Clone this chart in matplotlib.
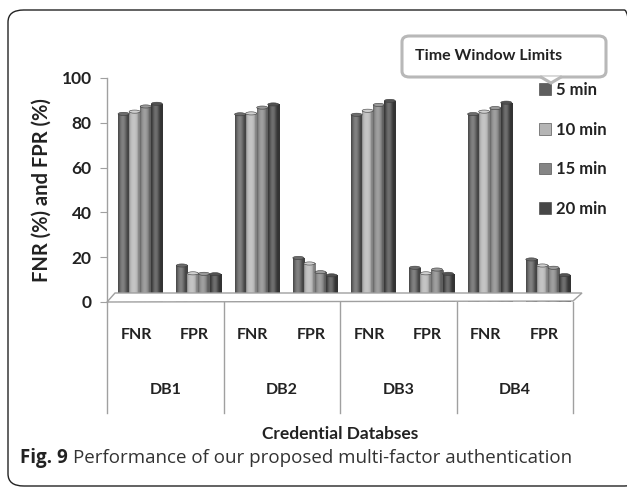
import numpy as np
import matplotlib
matplotlib.use("Agg")
import matplotlib.pyplot as plt
from matplotlib.patches import FancyBboxPatch, Polygon, Ellipse
from matplotlib.colors import to_rgb, ListedColormap
from matplotlib.transforms import blended_transform_factory

# data
databases = ["DB1", "DB2", "DB3", "DB4"]
metrics = ["FNR", "FPR"]
windows = ["5 min", "10 min", "15 min", "20 min"]
fnr = {
    "5 min": [84.0, 83.8, 83.6, 83.9],
    "10 min": [85.0, 84.2, 85.4, 85.0],
    "15 min": [87.3, 86.8, 88.0, 86.6],
    "20 min": [88.5, 88.2, 89.8, 89.0],
}
fpr = {
    "5 min": [16.3, 19.7, 15.3, 19.0],
    "10 min": [12.8, 17.2, 12.8, 16.3],
    "15 min": [12.6, 13.3, 14.5, 15.3],
    "20 min": [12.4, 11.9, 12.6, 12.0],
}
colors = ["#5e5e5e", "#b5b5b5", "#858585", "#474747"]
yticks = [0, 20, 40, 60, 80, 100]

W, H = 627, 488
fig = plt.figure(figsize=(W / 100, H / 100), dpi=100)
FONT = "Lato"


def fx(px):
    return px / W


def fy(py):
    return 1 - py / H


ax = fig.add_axes([fx(107), fy(302), fx(573) - fx(107), fy(78) - fy(302)])
ax.set_xlim(0, 8)
ax.set_ylim(0, 100)

bar_w = 0.19
shift = 0.07


def shade_cmap(c):
    base = np.array(to_rgb(c))
    t = np.linspace(0, 1, 64)
    f = 0.72 + 0.5 * np.sin(np.pi * np.clip(t * 1.25, 0, 1)) ** 0.8
    cols = [np.clip(base * k if k <= 1 else base + (1 - base) * (k - 1), 0, 1) for k in f]
    return ListedColormap(cols)


grad = np.linspace(0, 1, 64).reshape(1, -1)
for j, win in enumerate(windows):
    xs, hs = [], []
    for d in range(len(databases)):
        for m, series in enumerate([fnr, fpr]):
            slot = d * 2 + m
            xs.append(slot + 0.5 + shift + (j - 1.5) * bar_w)
            hs.append(series[win][d])
    bars = ax.bar(xs, hs, width=bar_w, color=colors[j], edgecolor="#3a3a3a",
                  linewidth=0.4, zorder=3, label=win)
    cmap = shade_cmap(colors[j])
    for b in bars:
        x0, w, h = b.get_x(), b.get_width(), b.get_height()
        im = ax.imshow(grad, extent=[x0, x0 + w, 0, h], cmap=cmap,
                       aspect="auto", zorder=3.5, interpolation="bilinear")
        im.set_clip_path(b)
        cap = Ellipse((x0 + w / 2, h), w, 1.4,
                      facecolor=np.clip(np.array(to_rgb(colors[j])) * 1.15, 0, 1),
                      edgecolor="#3a3a3a", linewidth=0.4, zorder=4)
        ax.add_patch(cap)

ax.set_xlim(0, 8)
ax.set_ylim(0, 100)

# floor of the 3D chart
floor = Polygon([[fx(107), fy(302)], [fx(115), fy(293)], [fx(582), fy(293)], [fx(573), fy(301)]],
                closed=True, transform=fig.transFigure, facecolor="white",
                edgecolor="#a0a0a0", linewidth=1.0, zorder=1)
fig.patches.append(floor)

for s in ["top", "right", "bottom"]:
    ax.spines[s].set_visible(False)
ax.spines["left"].set_color("#a0a0a0")
ax.spines["left"].set_linewidth(1.0)
ax.set_xticks([])
ax.set_yticks(yticks)
ax.tick_params(axis="y", length=5, color="#a0a0a0", pad=6)
for lab in ax.get_yticklabels():
    lab.set_fontfamily(FONT)
    lab.set_fontweight("bold")
    lab.set_fontsize(12.5)
    lab.set_color("#222222")
ax.patch.set_visible(False)

# category labels and dividers below the axis
tr = blended_transform_factory(ax.transData, fig.transFigure)
for d, db in enumerate(databases):
    for m, met in enumerate(metrics):
        ax.text(d * 2 + m + 0.5, fy(335), met, transform=tr, ha="center", va="center",
                fontsize=11.5, fontweight="bold", family=FONT, color="#222222")
    ax.text(d * 2 + 1.0, fy(390), db, transform=tr, ha="center", va="center",
            fontsize=11.5, fontweight="bold", family=FONT, color="#222222")
for k in range(len(databases) + 1):
    ax.plot([k * 2, k * 2], [fy(302), fy(413)], transform=tr, color="#a0a0a0",
            linewidth=1.0, clip_on=False)

fig.text(fx(340), fy(434), "Credential Databses", ha="center", va="center",
         fontsize=12.5, fontweight="bold", family=FONT, color="#222222")
fig.text(fx(42), fy(190), "FNR (%) and FPR (%)", rotation=90, ha="center", va="center",
         fontsize=14.5, fontweight="bold", family=FONT, color="#222222")

# legend
ax.legend(loc="upper left", bbox_to_anchor=(fx(524), fy(67)), bbox_transform=fig.transFigure,
          frameon=False, handlelength=0.7, handleheight=0.7, handletextpad=0.3,
          labelspacing=1.42, prop={"family": FONT, "size": 12, "weight": "bold"},
          labelcolor="#222222")

# callout box
callout = FancyBboxPatch((fx(402), fy(77)), fx(606) - fx(402), fy(36) - fy(77),
                         boxstyle="round,pad=0,rounding_size=0.012",
                         transform=fig.transFigure, facecolor="white",
                         edgecolor="#b8b8b8", linewidth=2.2)
fig.patches.append(callout)
notch = Polygon([[fx(540), fy(76.5)], [fx(551), fy(83)], [fx(562), fy(76.5)]], closed=False,
                transform=fig.transFigure, facecolor="white", edgecolor="#b8b8b8", linewidth=2.2)
fig.patches.append(notch)
fig.text(fx(415), fy(56), "Time Window Limits", ha="left", va="center",
         fontsize=11.5, fontweight="bold", family=FONT, color="#222222")

# outer frame
frame = FancyBboxPatch((fx(8), fy(486)), fx(640) - fx(8), fy(10) - fy(486),
                       boxstyle="round,pad=0,rounding_size=0.025",
                       transform=fig.transFigure, facecolor="none",
                       edgecolor="#222222", linewidth=1.0)
fig.patches.append(frame)

# caption
t1 = fig.text(fx(20), fy(458), "Fig. 9", ha="left", va="center", fontsize=13.5,
              fontweight="bold", family="Open Sans", color="#222222")
fig.canvas.draw()
bb = t1.get_window_extent()
fig.text(bb.x1 / W + fx(5), fy(458), "Performance of our proposed multi-factor authentication",
         ha="left", va="center", fontsize=13.5, family="Open Sans", color="#333333")

fig.savefig("out.png", dpi=100)
